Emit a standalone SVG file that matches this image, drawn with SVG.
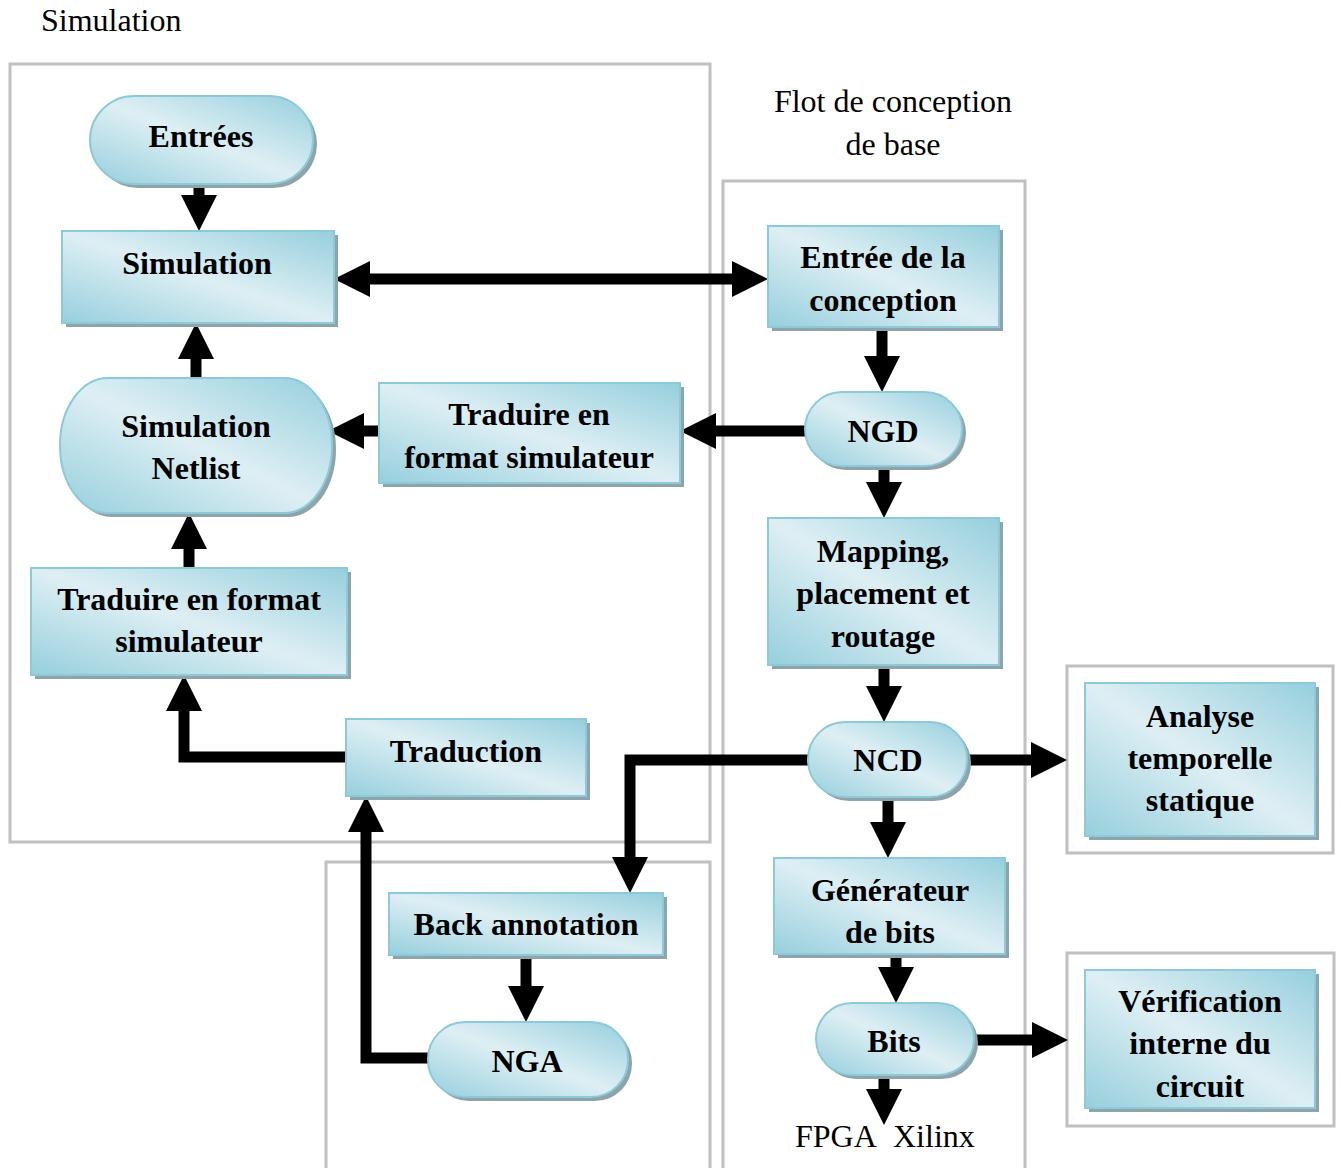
<svg xmlns="http://www.w3.org/2000/svg" width="1341" height="1168" viewBox="0 0 1341 1168">
<style>
.frame{fill:none;stroke:#c0c0c0;stroke-width:3}
.box{fill:url(#g);stroke:#8ccad9;stroke-width:2}
.sh{fill:#8fa3aa}
.t{font-family:"Liberation Serif","Times New Roman",serif;font-weight:bold;font-size:32px;text-anchor:middle;fill:#000}
.p{font-family:"Liberation Serif","Times New Roman",serif;font-size:32px;fill:#000}
.c{fill:none;stroke:#000;stroke-width:11;stroke-linejoin:miter}
.a{marker-end:url(#ah)}
</style>
<defs>
<linearGradient id="g" x1="0" y1="1" x2="1" y2="0">
<stop offset="0" stop-color="#96cfdd"/>
<stop offset="0.5" stop-color="#deeff4"/>
<stop offset="1" stop-color="#96cfdd"/>
</linearGradient>
<marker id="ah" markerUnits="userSpaceOnUse" markerWidth="36" markerHeight="36" refX="6" refY="18" orient="auto" viewBox="0 0 36 36"><path d="M0,0 L36,18 L0,36 z" fill="#000"/></marker>
<marker id="as" markerUnits="userSpaceOnUse" markerWidth="36" markerHeight="36" refX="6" refY="18" orient="auto-start-reverse" viewBox="0 0 36 36"><path d="M0,0 L36,18 L0,36 z" fill="#000"/></marker>
</defs>
<rect width="1341" height="1168" fill="#fff"/>

<g id="frames">
<rect class="frame" x="10" y="64" width="700" height="778"/>
<rect class="frame" x="723" y="181" width="302" height="1000"/>
<rect class="frame" x="326" y="862" width="384" height="320"/>
<rect class="frame" x="1067" y="666" width="266" height="187"/>
<rect class="frame" x="1067" y="953" width="267" height="173"/>
</g>
<text class="p" x="41" y="31">Simulation</text>
<text class="p" x="893" y="112" text-anchor="middle">Flot de conception</text>
<text class="p" x="893" y="155" text-anchor="middle">de base</text>
<text class="p" x="795" y="1147">FPGA</text>
<text class="p" x="893" y="1147">Xilinx</text>

<g id="connectors">
<path class="c a" d="M199,184 V201"/>
<path class="c a" d="M196,378 V353"/>
<path class="c a" d="M189,568 V543"/>
<path class="c a" d="M346,757 H184 V705"/>
<path class="c" d="M364,279 H738" marker-start="url(#as)" marker-end="url(#ah)"/>
<path class="c a" d="M805,431 H710"/>
<path class="c a" d="M379,431 H358"/>
<path class="c a" d="M882,327 V362"/>
<path class="c a" d="M884,466 V488"/>
<path class="c a" d="M884,665 V692"/>
<path class="c a" d="M808,760 H630 V863"/>
<path class="c a" d="M967,760 H1037"/>
<path class="c a" d="M888,797 V828"/>
<path class="c a" d="M896,954 V973"/>
<path class="c a" d="M974,1040 H1038"/>
<path class="c a" d="M884,1075 V1095"/>
<path class="c a" d="M526,955 V992"/>
<path class="c a" d="M428,1058 H366 V826"/>
</g>

<g id="entrees">
<rect class="sh" x="94" y="100" width="223" height="88" rx="44"/>
<rect class="box" x="90" y="96" width="223" height="88" rx="44"/>
<text class="t" x="201" y="147">Entrées</text>
</g>
<g id="simulation">
<rect class="sh" x="66" y="235" width="272" height="92"/>
<rect class="box" x="62" y="231" width="272" height="92"/>
<text class="t" x="197" y="274">Simulation</text>
</g>
<g id="simnetlist">
<rect class="sh" x="64" y="382" width="272" height="135" rx="48" ry="67"/>
<rect class="box" x="60" y="378" width="272" height="135" rx="48" ry="67"/>
<text class="t" x="196" y="437">Simulation</text>
<text class="t" x="196" y="479">Netlist</text>
</g>
<g id="traduire-left">
<rect class="sh" x="35" y="572" width="316" height="107"/>
<rect class="box" x="31" y="568" width="316" height="107"/>
<text class="t" x="189" y="610">Traduire en format</text>
<text class="t" x="189" y="652">simulateur</text>
</g>
<g id="traduction">
<rect class="sh" x="350" y="723" width="240" height="77"/>
<rect class="box" x="346" y="719" width="240" height="77"/>
<text class="t" x="466" y="762">Traduction</text>
</g>
<g id="traduire-mid">
<rect class="sh" x="383" y="387" width="301" height="100"/>
<rect class="box" x="379" y="383" width="301" height="100"/>
<text class="t" x="529" y="425">Traduire en</text>
<text class="t" x="529" y="468">format simulateur</text>
</g>
<g id="entree-conception">
<rect class="sh" x="772" y="230" width="231" height="101"/>
<rect class="box" x="768" y="226" width="231" height="101"/>
<text class="t" x="883" y="268">Entrée de la</text>
<text class="t" x="883" y="311">conception</text>
</g>
<g id="ngd">
<rect class="sh" x="809" y="396" width="157" height="74" rx="37"/>
<rect class="box" x="805" y="392" width="157" height="74" rx="37"/>
<text class="t" x="883" y="442">NGD</text>
</g>
<g id="mapping">
<rect class="sh" x="772" y="522" width="231" height="147"/>
<rect class="box" x="768" y="518" width="231" height="147"/>
<text class="t" x="883" y="562">Mapping,</text>
<text class="t" x="883" y="604">placement et</text>
<text class="t" x="883" y="647">routage</text>
</g>
<g id="ncd">
<rect class="sh" x="812" y="726" width="159" height="75" rx="37"/>
<rect class="box" x="808" y="722" width="159" height="75" rx="37"/>
<text class="t" x="888" y="771">NCD</text>
</g>
<g id="generateur">
<rect class="sh" x="778" y="862" width="231" height="96"/>
<rect class="box" x="774" y="858" width="231" height="96"/>
<text class="t" x="890" y="901">Générateur</text>
<text class="t" x="890" y="943">de bits</text>
</g>
<g id="bits">
<rect class="sh" x="820" y="1007" width="158" height="72" rx="36"/>
<rect class="box" x="816" y="1003" width="158" height="72" rx="36"/>
<text class="t" x="894" y="1052">Bits</text>
</g>
<g id="back-annotation">
<rect class="sh" x="393" y="897" width="274" height="62"/>
<rect class="box" x="389" y="893" width="274" height="62"/>
<text class="t" x="526" y="935">Back annotation</text>
</g>
<g id="nga">
<rect class="sh" x="432" y="1026" width="200" height="75" rx="37"/>
<rect class="box" x="428" y="1022" width="200" height="75" rx="37"/>
<text class="t" x="527" y="1072">NGA</text>
</g>
<g id="analyse">
<rect class="sh" x="1089" y="687" width="230" height="153"/>
<rect class="box" x="1085" y="683" width="230" height="153"/>
<text class="t" x="1200" y="727">Analyse</text>
<text class="t" x="1200" y="769">temporelle</text>
<text class="t" x="1200" y="811">statique</text>
</g>
<g id="verification">
<rect class="sh" x="1089" y="974" width="230" height="138"/>
<rect class="box" x="1085" y="970" width="230" height="138"/>
<text class="t" x="1200" y="1012">Vérification</text>
<text class="t" x="1200" y="1054">interne du</text>
<text class="t" x="1200" y="1097">circuit</text>
</g>
</svg>
